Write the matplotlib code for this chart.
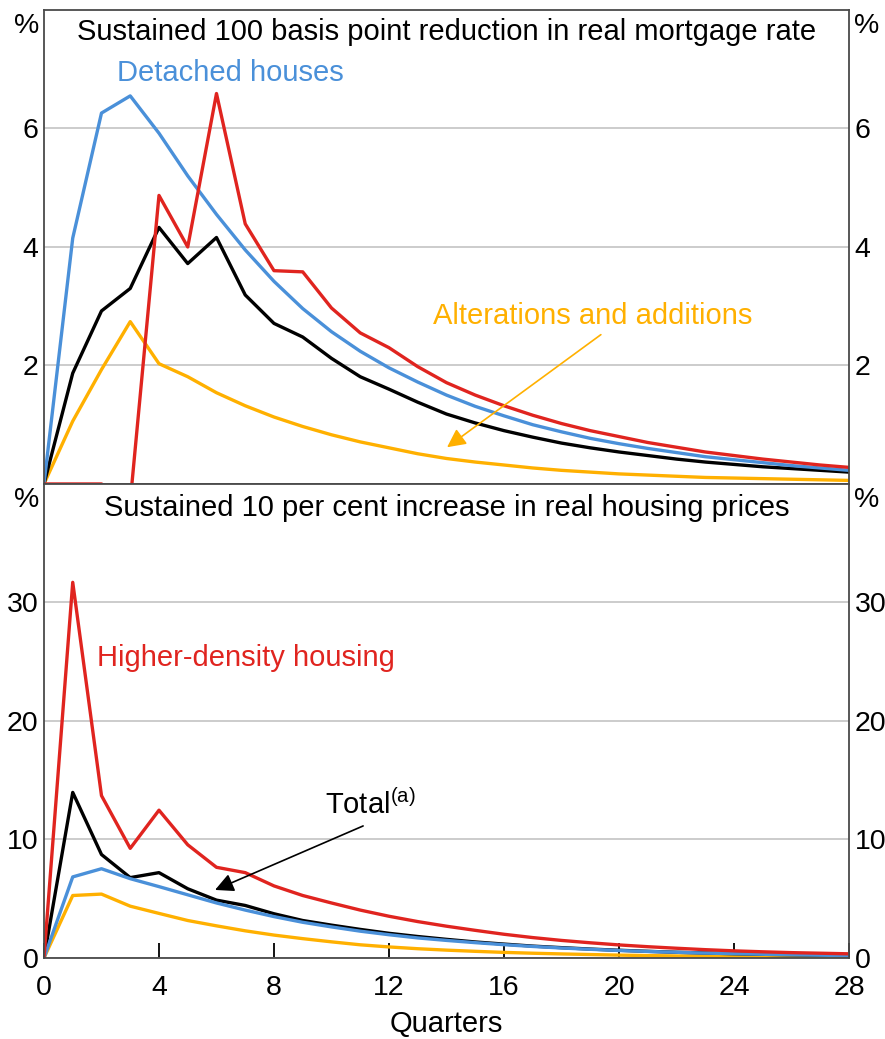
import numpy as np
import matplotlib
matplotlib.use("Agg")
import matplotlib.pyplot as plt

# ── Data ─────────────────────────────────────────────────────────────────────
quarters = list(range(29))

# Panel 1: sustained 100bp reduction in real mortgage rate
rate_detached = [0, 4.15, 6.26, 6.55, 5.92, 5.20, 4.55, 3.95, 3.42, 2.96, 2.57,
                 2.24, 1.96, 1.72, 1.50, 1.31, 1.15, 1.00, 0.88, 0.77, 0.68,
                 0.60, 0.53, 0.46, 0.41, 0.36, 0.31, 0.27, 0.23]
rate_higher = [0, 0, 0, -0.3, 4.87, 4.00, 6.59, 4.39, 3.60, 3.58, 2.97,
               2.55, 2.30, 1.98, 1.71, 1.50, 1.32, 1.16, 1.02, 0.90, 0.80,
               0.70, 0.62, 0.54, 0.48, 0.42, 0.37, 0.32, 0.28]
rate_total = [0, 1.87, 2.92, 3.30, 4.33, 3.72, 4.16, 3.19, 2.71, 2.48, 2.12,
              1.81, 1.60, 1.38, 1.18, 1.03, 0.90, 0.79, 0.69, 0.61, 0.54,
              0.48, 0.42, 0.37, 0.33, 0.29, 0.26, 0.23, 0.20]
rate_alter = [0, 1.06, 1.93, 2.74, 2.03, 1.81, 1.54, 1.32, 1.13, 0.97, 0.83,
              0.71, 0.61, 0.51, 0.43, 0.37, 0.32, 0.27, 0.23, 0.20, 0.17,
              0.15, 0.13, 0.11, 0.10, 0.09, 0.08, 0.07, 0.06]

# Panel 2: sustained 10 per cent increase in real housing prices
price_detached = [0, 6.84, 7.53, 6.69, 6.02, 5.33, 4.64, 4.04, 3.49, 3.01, 2.62,
                  2.26, 1.96, 1.69, 1.48, 1.29, 1.12, 0.97, 0.84, 0.73, 0.63,
                  0.55, 0.48, 0.41, 0.36, 0.31, 0.27, 0.23, 0.20]
price_higher = [0, 31.7, 13.7, 9.25, 12.47, 9.55, 7.65, 7.20, 6.08, 5.27, 4.64,
                4.04, 3.52, 3.07, 2.68, 2.33, 2.00, 1.72, 1.48, 1.28, 1.10,
                0.95, 0.82, 0.70, 0.60, 0.52, 0.45, 0.40, 0.35]
price_total = [0, 13.97, 8.73, 6.78, 7.20, 5.84, 4.88, 4.43, 3.73, 3.16, 2.77,
               2.41, 2.08, 1.81, 1.57, 1.35, 1.17, 1.00, 0.87, 0.75, 0.65,
               0.56, 0.48, 0.42, 0.36, 0.31, 0.27, 0.23, 0.20]
price_alter = [0, 5.27, 5.39, 4.37, 3.76, 3.16, 2.71, 2.29, 1.93, 1.63, 1.36,
               1.11, 0.93, 0.78, 0.66, 0.56, 0.47, 0.40, 0.34, 0.29, 0.24,
               0.20, 0.17, 0.15, 0.12, 0.10, 0.09, 0.08, 0.07]

x_ticks = [0, 4, 8, 12, 16, 20, 24, 28]

# ── Style ────────────────────────────────────────────────────────────────────
BLUE   = "#4a90d9"
RED    = "#e0241f"
YELLOW = "#ffb000"
BLACK  = "#000000"
GRID   = "#c4c4c4"
FRAME  = "#4a4a4a"
FS     = 20.5     # tick labels
FT     = 21       # titles / labels

plt.rcParams.update({
    "font.family": ["Liberation Sans", "DejaVu Sans"],
    "mathtext.fontset": "custom",
    "mathtext.rm": "Liberation Sans",
    "mathtext.it": "Liberation Sans",
})

fig = plt.figure(figsize=(8.85, 10.39), dpi=100)
ax1 = fig.add_axes([0.0497, 0.5342, 0.9096, 0.4562])
ax2 = fig.add_axes([0.0497, 0.0780, 0.9096, 0.4562])


def style_axes(ax, ylim, yticks, pct_y):
    ax.set_xlim(0, 28)
    ax.set_ylim(*ylim)
    ax.set_yticks(yticks)
    ax.grid(axis="y", color=GRID, lw=1.2)
    ax.set_axisbelow(True)
    for s in ax.spines.values():
        s.set_color(FRAME)
        s.set_linewidth(1.3)
    ax.tick_params(axis="y", length=0, labelsize=FS, labelleft=True,
                   labelright=True, pad=4)
    ax.text(-0.006, pct_y, "%", transform=ax.transAxes, ha="right",
            va="center", fontsize=FS)
    ax.text(1.006, pct_y, "%", transform=ax.transAxes, ha="left",
            va="center", fontsize=FS)


def draw(ax, det, hig, tot, alt):
    ax.plot(quarters, alt, color=YELLOW, lw=2.4)
    ax.plot(quarters, tot, color=BLACK, lw=2.4)
    ax.plot(quarters, det, color=BLUE, lw=2.4)
    ax.plot(quarters, hig, color=RED, lw=2.4)


# ── Top panel ────────────────────────────────────────────────────────────────
style_axes(ax1, (0, 8), [2, 4, 6], 0.966)
draw(ax1, rate_detached, rate_higher, rate_total, rate_alter)
ax1.set_xticks(x_ticks)
ax1.tick_params(axis="x", length=0, labelbottom=False)
ax1.text(0.5, 0.954, "Sustained 100 basis point reduction in real mortgage rate",
         transform=ax1.transAxes, ha="center", va="center", fontsize=FT)
ax1.text(2.54, 6.94, "Detached houses", color=BLUE, fontsize=FT,
         ha="left", va="center")
ax1.text(13.53, 2.84, "Alterations and additions", color=YELLOW, fontsize=FT,
         ha="left", va="center")
ax1.annotate("", xy=(14.02, 0.62), xytext=(19.37, 2.52),
             arrowprops=dict(arrowstyle="-|>", color=YELLOW, lw=1.2,
                             mutation_scale=28, shrinkA=0, shrinkB=0))

# ── Bottom panel ─────────────────────────────────────────────────────────────
style_axes(ax2, (0, 40), [0, 10, 20, 30], 0.966)
draw(ax2, price_detached, price_higher, price_total, price_alter)
ax2.set_xticks(x_ticks)
ax2.tick_params(axis="x", direction="in", length=11, width=1.3, color=BLACK,
                labelsize=FS, pad=12)
ax2.set_xlabel("Quarters", fontsize=FT, labelpad=7)
ax2.text(0.5, 0.949, "Sustained 10 per cent increase in real housing prices",
         transform=ax2.transAxes, ha="center", va="center", fontsize=FT)
ax2.text(1.84, 25.3, "Higher-density housing", color=RED, fontsize=FT,
         ha="left", va="center")
ax2.text(9.77, 12.9, r"Total$^{\mathrm{(a)}}$", color=BLACK, fontsize=FT,
         ha="left", va="center")
ax2.annotate("", xy=(5.95, 5.74), xytext=(11.1, 11.14),
             arrowprops=dict(arrowstyle="-|>", color=BLACK, lw=1.2,
                             mutation_scale=28, shrinkA=0, shrinkB=0))

fig.savefig("out.png", dpi=100)
